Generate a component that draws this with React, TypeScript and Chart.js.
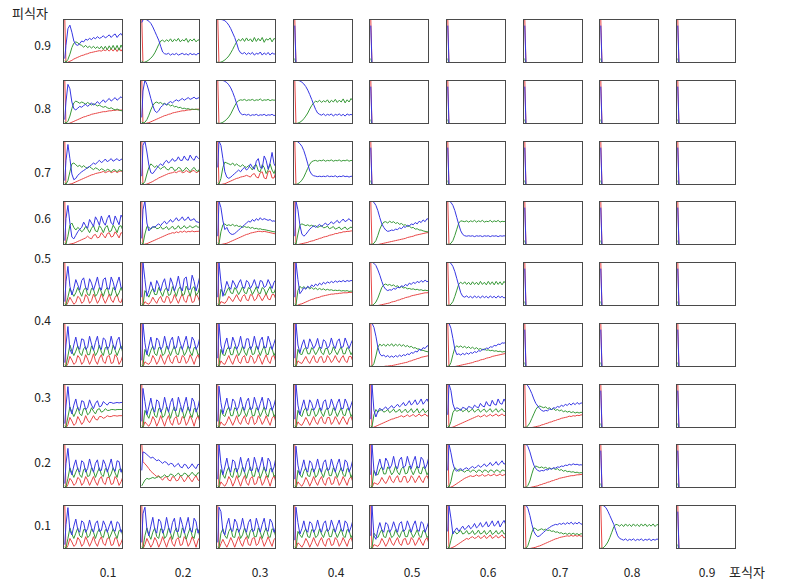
import React, { useEffect, useRef } from 'react';
import { Chart, registerables } from 'chart.js';

Chart.register(...registerables);

// Row labels (prey, 피식자) top to bottom; column labels (predator, 포식자) left to right
const preyLabels = ['0.9', '0.8', '0.7', '0.6', '0.5', '0.4', '0.3', '0.2', '0.1'];
const predLabels = ['0.1', '0.2', '0.3', '0.4', '0.5', '0.6', '0.7', '0.8', '0.9'];

// Each row: 9 cells (predator 0.1 .. 0.9); each cell: series sampled at t = 0..30, in % of the cell's range
const blue09 = [
  [10, 40, 78, 86, 70, 50, 42, 40, 44, 50, 48, 54, 52, 56, 53, 58, 55, 60, 56, 58, 62, 57, 60, 64, 58, 63, 66, 58, 64, 67, 60],
  [92, 98, 100, 98, 95, 90, 82, 72, 62, 52, 38, 25, 21, 20, 22, 18, 21, 19, 22, 18, 20, 22, 19, 21, 18, 22, 19, 21, 18, 22, 20],
  [100, 100, 99, 98, 96, 92, 86, 78, 68, 58, 45, 30, 23, 21, 24, 19, 23, 20, 24, 18, 22, 20, 25, 18, 23, 19, 24, 18, 23, 20, 22],
  [85, 0], [85, 0], [85, 0], [85, 0], [85, 0], [85, 0],
];
const green09 = [
  [5, 2, 8, 20, 35, 45, 48, 46, 42, 40, 36, 40, 35, 38, 34, 38, 33, 37, 32, 38, 31, 38, 30, 39, 31, 40, 30, 40, 29, 41, 32],
  [5, 1, 2, 4, 7, 11, 16, 23, 32, 42, 50, 52, 48, 53, 49, 55, 48, 54, 50, 56, 48, 53, 50, 56, 47, 54, 50, 55, 48, 53, 50],
  [3, 1, 2, 4, 7, 11, 16, 23, 31, 40, 48, 54, 50, 56, 49, 57, 50, 55, 48, 58, 49, 56, 50, 58, 47, 55, 52, 57, 48, 56, 52],
  [10, 0], [10, 0], [10, 0], [10, 0], [10, 0], [10, 0],
];
const red09 = [
  [100, 0, 2, 4, 6, 9, 11, 13, 15, 17, 18, 20, 21, 23, 24, 25, 26, 27, 28, 27, 30, 28, 31, 27, 32, 27, 33, 26, 34, 27, 33],
  [100, 0], [100, 0],
  [100, 0], [100, 0], [100, 0], [100, 0], [100, 0], [100, 0],
];

const blue08 = [
  [10, 50, 90, 80, 50, 35, 32, 36, 40, 38, 42, 45, 40, 44, 48, 43, 46, 51, 46, 50, 55, 49, 54, 58, 52, 56, 60, 54, 58, 62, 57],
  [15, 75, 100, 90, 75, 58, 42, 30, 26, 30, 38, 42, 46, 44, 48, 51, 48, 52, 55, 52, 55, 58, 54, 57, 60, 56, 58, 61, 57, 59, 61],
  [100, 100, 100, 99, 97, 94, 89, 82, 72, 60, 46, 32, 24, 21, 22, 20, 22, 19, 21, 20, 22, 19, 21, 20, 22, 19, 21, 20, 22, 19, 21],
  [100, 100, 99, 98, 95, 91, 85, 77, 67, 56, 44, 33, 25, 22, 20, 23, 19, 22, 20, 23, 18, 22, 20, 23, 19, 22, 18, 23, 20, 22, 19],
  [85, 0], [85, 0], [85, 0], [85, 0], [85, 0],
];
const green08 = [
  [5, 2, 6, 18, 35, 48, 52, 50, 47, 50, 48, 45, 49, 46, 43, 46, 44, 41, 43, 40, 38, 40, 37, 35, 37, 34, 32, 34, 32, 30, 31],
  [5, 2, 4, 10, 20, 32, 42, 48, 50, 47, 49, 45, 47, 43, 45, 41, 43, 39, 40, 37, 38, 35, 36, 34, 35, 33, 34, 33, 34, 32, 33],
  [3, 1, 2, 4, 7, 11, 16, 23, 32, 41, 49, 53, 55, 54, 56, 53, 55, 54, 56, 53, 55, 54, 57, 53, 55, 54, 56, 53, 55, 54, 55],
  [3, 1, 2, 4, 7, 12, 18, 25, 34, 42, 48, 52, 50, 54, 49, 53, 50, 55, 48, 54, 50, 56, 49, 54, 50, 57, 48, 55, 50, 58, 52],
  [10, 0], [10, 0], [10, 0], [10, 0], [10, 0],
];
const red08 = [
  [100, 0, 1, 2, 4, 6, 8, 10, 12, 14, 16, 17, 19, 20, 22, 23, 24, 25, 26, 27, 28, 28, 29, 30, 30, 31, 31, 32, 31, 32, 31],
  [100, 0, 1, 2, 3, 5, 7, 9, 11, 13, 15, 17, 19, 20, 22, 23, 25, 26, 27, 28, 29, 30, 30, 31, 32, 32, 33, 33, 33, 34, 33],
  [100, 0], [100, 0],
  [100, 0], [100, 0], [100, 0], [100, 0], [100, 0],
];

const blue07 = [
  [10, 55, 92, 60, 25, 12, 15, 22, 26, 30, 33, 36, 40, 42, 46, 50, 47, 52, 56, 51, 54, 59, 53, 56, 60, 54, 57, 60, 55, 58, 60],
  [20, 90, 100, 75, 45, 28, 26, 32, 38, 44, 48, 44, 52, 56, 50, 54, 60, 54, 56, 64, 56, 56, 66, 58, 56, 68, 60, 56, 66, 62, 57],
  [40, 100, 90, 60, 30, 18, 15, 18, 22, 26, 30, 34, 30, 36, 40, 34, 38, 48, 40, 36, 54, 60, 40, 38, 66, 56, 36, 50, 74, 48, 40],
  [100, 100, 98, 94, 88, 78, 64, 48, 32, 24, 21, 20, 19, 20, 19, 20, 19, 21, 19, 20, 19, 21, 18, 20, 19, 21, 19, 20, 18, 20, 19],
  [85, 0], [85, 0], [85, 0], [85, 0], [85, 0],
];
const green07 = [
  [5, 2, 10, 30, 48, 50, 46, 42, 45, 40, 44, 40, 38, 42, 38, 35, 39, 37, 33, 37, 35, 31, 36, 34, 30, 35, 34, 30, 35, 33, 31],
  [5, 2, 8, 25, 40, 48, 44, 40, 44, 40, 36, 40, 42, 36, 34, 40, 40, 33, 34, 40, 38, 31, 34, 40, 36, 30, 36, 40, 33, 31, 38],
  [5, 2, 15, 40, 52, 50, 48, 46, 50, 44, 48, 44, 42, 46, 42, 40, 44, 40, 34, 44, 46, 32, 30, 46, 40, 26, 34, 48, 34, 26, 40],
  [3, 1, 3, 6, 11, 18, 28, 38, 47, 53, 55, 56, 54, 56, 55, 57, 54, 56, 55, 57, 54, 56, 55, 57, 54, 56, 55, 57, 54, 56, 55],
  [10, 0], [10, 0], [10, 0], [10, 0], [10, 0],
];
const red07 = [
  [100, 0, 1, 2, 3, 5, 7, 9, 11, 13, 15, 17, 19, 21, 23, 24, 26, 27, 28, 29, 31, 28, 30, 32, 28, 30, 32, 28, 31, 32, 29],
  [100, 0, 1, 2, 4, 6, 8, 11, 13, 16, 18, 20, 22, 24, 26, 27, 28, 30, 28, 31, 32, 28, 29, 33, 30, 28, 32, 33, 28, 30, 33],
  [100, 0, 1, 2, 3, 5, 7, 9, 11, 13, 15, 16, 18, 19, 20, 22, 20, 18, 24, 26, 18, 16, 28, 30, 16, 14, 30, 32, 16, 16, 30],
  [100, 0],
  [100, 0], [100, 0], [100, 0], [100, 0], [100, 0],
];

const blue06 = [
  [10, 60, 90, 50, 18, 14, 22, 30, 36, 40, 52, 44, 38, 58, 50, 42, 64, 56, 45, 66, 52, 45, 60, 68, 50, 46, 66, 56, 46, 68, 60],
  [15, 80, 100, 50, 32, 38, 42, 40, 45, 48, 44, 50, 54, 48, 52, 58, 52, 56, 62, 55, 58, 64, 56, 58, 64, 56, 57, 60, 53, 52, 50],
  [20, 100, 85, 55, 35, 40, 30, 25, 24, 26, 30, 34, 38, 42, 46, 50, 54, 52, 58, 54, 60, 56, 62, 57, 60, 58, 56, 58, 54, 55, 52],
  [20, 100, 80, 45, 25, 20, 24, 30, 36, 40, 44, 40, 43, 47, 42, 46, 50, 45, 48, 53, 48, 52, 56, 50, 54, 59, 53, 56, 60, 54, 58],
  [100, 100, 97, 90, 78, 62, 48, 40, 34, 31, 32, 34, 33, 36, 35, 39, 37, 42, 40, 45, 43, 48, 46, 51, 48, 54, 51, 57, 53, 60, 57],
  [100, 100, 97, 90, 78, 62, 46, 32, 24, 21, 20, 21, 20, 21, 19, 21, 20, 21, 19, 21, 20, 21, 19, 21, 20, 21, 19, 21, 20, 21, 20],
  [85, 0], [85, 0], [85, 0],
];
const green06 = [
  [5, 2, 20, 45, 50, 40, 34, 40, 36, 30, 34, 42, 36, 28, 38, 44, 32, 30, 44, 38, 28, 40, 44, 30, 32, 45, 38, 28, 42, 44, 32],
  [5, 2, 25, 42, 40, 36, 40, 42, 37, 38, 42, 36, 38, 42, 35, 38, 43, 36, 38, 44, 37, 39, 44, 38, 40, 44, 39, 41, 44, 40, 42],
  [5, 2, 30, 46, 48, 44, 46, 44, 47, 43, 45, 42, 43, 40, 42, 40, 41, 38, 40, 37, 38, 36, 37, 35, 35, 34, 33, 32, 31, 30, 30],
  [5, 2, 25, 45, 48, 46, 44, 46, 43, 45, 42, 44, 40, 42, 44, 39, 40, 43, 37, 39, 42, 36, 38, 41, 35, 38, 41, 35, 38, 41, 37],
  [3, 1, 4, 10, 22, 36, 46, 52, 53, 50, 54, 51, 53, 49, 51, 47, 49, 45, 46, 42, 43, 39, 40, 36, 37, 34, 34, 32, 31, 30, 30],
  [3, 1, 4, 10, 22, 36, 50, 55, 54, 53, 55, 52, 55, 53, 56, 52, 55, 53, 56, 52, 54, 53, 56, 52, 55, 53, 56, 52, 54, 53, 55],
  [10, 0], [10, 0], [10, 0],
];
const red06 = [
  [100, 0, 1, 2, 3, 4, 6, 8, 10, 12, 14, 16, 20, 16, 14, 22, 24, 16, 18, 28, 22, 16, 26, 28, 18, 20, 30, 24, 16, 28, 26],
  [100, 0, 2, 3, 5, 7, 9, 11, 13, 15, 17, 19, 21, 23, 25, 26, 28, 27, 30, 28, 31, 29, 32, 29, 31, 30, 32, 30, 31, 31, 32],
  [100, 0, 1, 2, 3, 4, 6, 8, 10, 12, 14, 16, 18, 20, 22, 24, 25, 27, 28, 29, 30, 31, 31, 30, 31, 30, 29, 28, 27, 26, 25],
  [100, 0, 1, 2, 3, 4, 5, 6, 8, 9, 10, 12, 13, 15, 16, 18, 19, 20, 22, 23, 24, 26, 26, 28, 28, 30, 30, 31, 31, 32, 32],
  [100, 0, 0, 1, 1, 2, 3, 4, 5, 6, 7, 8, 9, 10, 11, 12, 13, 14, 15, 17, 18, 19, 20, 22, 23, 24, 25, 26, 27, 28, 28],
  [100, 0],
  [100, 0], [100, 0], [100, 0],
];

const blue05 = [
  [10, 55, 90, 45, 25, 40, 60, 48, 36, 58, 64, 42, 36, 62, 52, 36, 50, 66, 44, 36, 60, 64, 40, 38, 66, 54, 36, 52, 66, 42, 40],
  [20, 100, 60, 22, 35, 55, 40, 32, 58, 48, 34, 52, 62, 40, 34, 64, 52, 34, 48, 68, 44, 34, 62, 66, 38, 38, 70, 56, 34, 50, 70],
  [20, 100, 55, 22, 38, 56, 44, 38, 58, 50, 40, 52, 60, 44, 40, 58, 54, 40, 48, 60, 46, 40, 58, 56, 42, 46, 60, 50, 40, 54, 60],
  [20, 100, 60, 28, 34, 42, 38, 45, 41, 48, 44, 50, 46, 52, 48, 54, 50, 55, 52, 56, 53, 57, 54, 57, 55, 58, 55, 58, 56, 58, 57],
  [100, 100, 97, 92, 82, 70, 56, 44, 38, 35, 37, 36, 40, 38, 43, 41, 46, 44, 49, 46, 52, 49, 54, 51, 56, 53, 58, 54, 59, 55, 58],
  [100, 100, 97, 90, 78, 62, 46, 30, 22, 20, 23, 19, 22, 18, 23, 19, 22, 18, 23, 19, 22, 18, 23, 19, 22, 18, 23, 19, 22, 18, 22],
  [85, 0], [85, 0], [85, 0],
];
const green05 = [
  [5, 2, 20, 40, 30, 22, 30, 42, 32, 22, 36, 42, 26, 24, 40, 38, 22, 28, 42, 32, 22, 36, 42, 26, 24, 42, 36, 22, 30, 42, 30],
  [5, 2, 35, 28, 20, 32, 40, 26, 26, 42, 32, 22, 36, 42, 24, 26, 44, 34, 22, 38, 44, 24, 26, 45, 36, 22, 40, 44, 24, 30, 46],
  [5, 2, 38, 30, 24, 34, 42, 30, 28, 42, 36, 26, 34, 44, 30, 28, 42, 38, 26, 34, 44, 30, 28, 42, 38, 26, 36, 44, 30, 30, 42],
  [5, 2, 35, 45, 40, 44, 40, 43, 39, 42, 38, 41, 37, 40, 37, 39, 36, 38, 36, 37, 35, 36, 35, 36, 34, 35, 34, 35, 33, 34, 33],
  [3, 1, 4, 9, 18, 30, 42, 48, 50, 47, 49, 46, 48, 44, 46, 42, 44, 41, 42, 39, 40, 38, 39, 37, 38, 36, 37, 35, 36, 35, 35],
  [3, 1, 4, 10, 22, 36, 50, 54, 50, 55, 49, 54, 48, 55, 49, 54, 48, 56, 49, 54, 48, 56, 49, 55, 48, 56, 49, 55, 48, 56, 50],
  [10, 0], [10, 0], [10, 0],
];
const red05 = [
  [100, 0, 8, 20, 12, 4, 8, 22, 18, 6, 10, 26, 20, 6, 12, 27, 18, 6, 14, 28, 16, 6, 16, 27, 14, 8, 20, 26, 10, 8, 22],
  [100, 0, 10, 6, 4, 10, 20, 12, 6, 16, 22, 10, 8, 22, 20, 6, 12, 26, 16, 6, 18, 28, 12, 8, 24, 26, 8, 10, 28, 20, 8],
  [100, 0, 10, 8, 6, 12, 22, 16, 10, 18, 26, 16, 10, 22, 26, 14, 12, 26, 24, 12, 16, 28, 20, 12, 20, 28, 16, 14, 26, 26, 14],
  [100, 0, 2, 4, 5, 7, 9, 11, 13, 15, 16, 18, 19, 20, 22, 23, 24, 25, 26, 27, 27, 28, 28, 29, 29, 30, 30, 30, 31, 31, 31],
  [100, 0, 0, 1, 1, 2, 3, 4, 5, 6, 7, 9, 10, 11, 13, 14, 16, 17, 19, 20, 21, 23, 24, 25, 26, 27, 28, 29, 30, 30, 31],
  [100, 0],
  [100, 0], [100, 0], [100, 0],
];

const blue04 = [
  [10, 50, 92, 40, 30, 50, 68, 46, 40, 64, 62, 40, 44, 70, 52, 38, 56, 70, 44, 40, 66, 62, 40, 46, 70, 50, 40, 60, 68, 42, 44],
  [15, 100, 55, 28, 48, 68, 44, 40, 66, 60, 40, 46, 70, 50, 40, 60, 68, 42, 44, 70, 54, 40, 56, 70, 46, 42, 68, 60, 40, 50, 70],
  [20, 100, 50, 30, 52, 66, 42, 42, 68, 56, 40, 50, 70, 46, 42, 64, 64, 40, 48, 70, 50, 40, 60, 68, 44, 44, 70, 56, 40, 54, 68],
  [20, 100, 50, 32, 50, 62, 44, 42, 64, 54, 42, 50, 65, 46, 42, 62, 58, 42, 48, 66, 50, 42, 58, 64, 44, 46, 66, 54, 42, 54, 64],
  [100, 100, 90, 70, 45, 30, 25, 27, 23, 26, 22, 25, 22, 26, 23, 27, 24, 28, 26, 30, 28, 33, 31, 36, 34, 40, 38, 44, 42, 48, 48],
  [100, 100, 88, 65, 40, 28, 30, 27, 31, 28, 32, 29, 33, 31, 35, 33, 37, 36, 40, 39, 43, 42, 46, 45, 49, 48, 52, 51, 55, 54, 57],
  [85, 0], [85, 0], [85, 0],
];
const green04 = [
  [5, 2, 25, 50, 36, 26, 36, 48, 32, 26, 42, 46, 28, 28, 48, 40, 26, 34, 50, 34, 26, 44, 46, 28, 30, 50, 38, 26, 38, 48, 30],
  [5, 2, 40, 30, 24, 38, 48, 30, 26, 44, 44, 26, 30, 48, 38, 26, 38, 48, 30, 28, 46, 42, 26, 34, 48, 34, 26, 44, 44, 28, 32],
  [5, 2, 40, 28, 26, 40, 46, 28, 28, 46, 40, 26, 34, 48, 34, 26, 42, 46, 28, 30, 48, 38, 26, 38, 48, 30, 28, 46, 42, 26, 36],
  [5, 2, 40, 30, 28, 40, 44, 30, 30, 44, 38, 28, 36, 46, 32, 28, 42, 42, 28, 32, 46, 36, 28, 38, 46, 30, 30, 44, 40, 28, 36],
  [3, 1, 8, 25, 45, 52, 48, 52, 47, 52, 48, 53, 47, 52, 48, 52, 47, 51, 46, 49, 45, 47, 43, 44, 41, 41, 38, 38, 36, 35, 34],
  [3, 1, 10, 28, 44, 48, 45, 48, 44, 47, 43, 46, 42, 45, 41, 44, 40, 42, 39, 41, 38, 39, 37, 38, 36, 37, 35, 36, 34, 35, 34],
  [10, 0], [10, 0], [10, 0],
];
const red04 = [
  [100, 0, 8, 24, 16, 6, 10, 26, 20, 6, 12, 28, 18, 6, 16, 30, 14, 6, 20, 28, 12, 8, 24, 26, 8, 10, 28, 22, 6, 14, 28],
  [100, 0, 12, 8, 6, 12, 26, 18, 6, 14, 28, 16, 6, 18, 28, 12, 8, 22, 26, 10, 10, 26, 22, 8, 14, 28, 18, 6, 20, 28, 14],
  [100, 0, 14, 8, 6, 16, 26, 14, 6, 18, 28, 12, 8, 22, 26, 10, 10, 26, 22, 8, 14, 28, 18, 6, 18, 28, 14, 8, 24, 26, 10],
  [100, 0, 14, 10, 8, 16, 24, 14, 8, 18, 26, 12, 10, 22, 24, 10, 12, 26, 20, 10, 16, 26, 16, 10, 20, 26, 14, 10, 24, 24, 12],
  [100, 0, 0, 0, 0, 1, 1, 1, 2, 2, 3, 3, 4, 5, 6, 7, 8, 9, 10, 11, 13, 14, 16, 17, 19, 20, 22, 23, 24, 25, 26],
  [100, 0, 0, 1, 1, 2, 3, 4, 5, 6, 7, 8, 9, 10, 12, 13, 14, 16, 17, 18, 20, 21, 22, 24, 25, 26, 27, 28, 29, 30, 31],
  [100, 0], [100, 0], [100, 0],
];

const blue03 = [
  [10, 50, 94, 45, 32, 52, 66, 44, 40, 62, 60, 42, 46, 64, 52, 44, 56, 62, 48, 50, 60, 56, 52, 58, 58, 56, 57, 58, 57, 58, 58],
  [15, 90, 60, 30, 48, 68, 44, 36, 64, 60, 36, 44, 70, 50, 36, 58, 68, 40, 40, 70, 54, 36, 54, 70, 44, 38, 68, 60, 36, 48, 70],
  [15, 95, 58, 32, 50, 68, 44, 40, 66, 60, 40, 48, 70, 50, 40, 60, 68, 42, 44, 70, 54, 40, 56, 70, 46, 42, 68, 60, 40, 52, 70],
  [20, 100, 52, 30, 48, 64, 44, 40, 64, 56, 40, 48, 66, 48, 40, 60, 64, 42, 46, 66, 52, 40, 56, 66, 44, 44, 66, 56, 40, 52, 66],
  [20, 100, 40, 25, 38, 45, 40, 44, 48, 42, 46, 51, 45, 49, 54, 48, 52, 58, 50, 55, 62, 52, 57, 64, 53, 58, 66, 54, 60, 66, 56],
  [30, 100, 85, 55, 42, 46, 44, 40, 47, 45, 42, 49, 47, 44, 52, 48, 46, 56, 50, 48, 60, 52, 50, 63, 54, 52, 66, 56, 54, 66, 57],
  [100, 100, 96, 88, 78, 66, 56, 50, 44, 40, 38, 40, 39, 43, 42, 46, 45, 49, 47, 52, 49, 54, 51, 56, 52, 57, 53, 58, 54, 57, 56],
  [85, 0], [85, 0],
];
const green03 = [
  [5, 2, 25, 48, 36, 26, 36, 48, 32, 28, 44, 44, 30, 34, 46, 38, 32, 42, 44, 36, 38, 44, 40, 40, 42, 42, 41, 42, 42, 42, 42],
  [5, 2, 40, 30, 22, 38, 48, 28, 24, 44, 44, 24, 28, 48, 38, 22, 38, 48, 28, 26, 46, 42, 22, 34, 48, 32, 24, 44, 44, 26, 30],
  [5, 2, 42, 30, 26, 40, 48, 28, 28, 46, 42, 26, 32, 48, 36, 26, 40, 48, 28, 28, 46, 40, 26, 36, 48, 32, 26, 44, 44, 26, 34],
  [5, 2, 40, 30, 26, 40, 46, 28, 28, 44, 40, 26, 32, 46, 34, 26, 40, 46, 28, 30, 46, 38, 26, 36, 46, 30, 28, 44, 42, 26, 34],
  [5, 2, 30, 42, 36, 40, 42, 36, 38, 42, 35, 38, 43, 36, 38, 43, 35, 38, 43, 35, 38, 44, 35, 38, 44, 34, 38, 44, 35, 38, 43],
  [5, 2, 15, 35, 42, 38, 40, 43, 37, 40, 43, 36, 40, 43, 36, 40, 43, 36, 40, 43, 36, 40, 44, 36, 40, 44, 36, 40, 44, 37, 40],
  [3, 1, 5, 12, 22, 32, 42, 48, 50, 48, 46, 48, 44, 46, 42, 44, 40, 42, 39, 41, 37, 39, 36, 38, 35, 37, 34, 36, 34, 36, 34],
  [10, 0], [10, 0],
];
const red03 = [
  [100, 0, 8, 24, 16, 6, 10, 26, 18, 8, 14, 28, 18, 12, 20, 28, 20, 18, 26, 26, 22, 24, 28, 26, 26, 28, 28, 27, 28, 28, 28],
  [100, 0, 14, 8, 4, 12, 26, 18, 4, 14, 28, 16, 4, 18, 28, 12, 6, 22, 26, 8, 10, 26, 22, 6, 14, 28, 18, 4, 20, 28, 12],
  [100, 0, 14, 8, 6, 14, 26, 16, 6, 16, 28, 14, 8, 20, 28, 12, 8, 24, 26, 8, 12, 28, 20, 8, 16, 28, 16, 6, 22, 28, 12],
  [100, 0, 14, 8, 6, 14, 24, 16, 6, 16, 26, 14, 8, 20, 26, 12, 10, 24, 24, 8, 14, 26, 18, 8, 18, 26, 16, 8, 22, 26, 12],
  [100, 0, 2, 4, 6, 8, 10, 12, 14, 16, 18, 20, 21, 23, 24, 26, 28, 25, 27, 30, 26, 28, 31, 26, 28, 32, 27, 29, 32, 27, 29],
  [100, 0, 1, 2, 4, 6, 8, 10, 12, 14, 16, 18, 20, 22, 24, 26, 28, 25, 27, 30, 26, 28, 31, 27, 29, 32, 27, 29, 32, 28, 30],
  [100, 0, 0, 1, 1, 2, 3, 4, 5, 7, 8, 10, 11, 13, 14, 16, 17, 19, 20, 22, 23, 24, 25, 27, 26, 28, 27, 29, 28, 30, 29],
  [100, 0], [100, 0],
];

const blue02 = [
  [10, 55, 90, 42, 30, 50, 64, 42, 36, 62, 58, 36, 44, 66, 48, 36, 56, 64, 40, 40, 64, 54, 36, 50, 66, 44, 38, 62, 60, 36, 46],
  [40, 82, 80, 76, 72, 68, 70, 66, 62, 64, 60, 56, 60, 58, 52, 56, 55, 48, 52, 56, 48, 46, 54, 52, 44, 48, 55, 48, 44, 54, 52],
  [20, 100, 56, 30, 48, 68, 44, 36, 64, 60, 36, 46, 70, 48, 36, 58, 68, 40, 40, 70, 54, 36, 52, 70, 44, 38, 68, 60, 36, 48, 70],
  [20, 95, 52, 30, 46, 64, 42, 36, 62, 56, 36, 46, 66, 46, 36, 58, 64, 40, 42, 66, 50, 36, 54, 66, 42, 38, 64, 58, 36, 48, 66],
  [30, 100, 40, 28, 50, 66, 46, 42, 68, 60, 44, 52, 72, 50, 44, 64, 70, 46, 50, 72, 56, 44, 60, 72, 48, 46, 70, 64, 44, 54, 72],
  [40, 100, 80, 56, 42, 38, 42, 44, 40, 44, 46, 42, 46, 49, 45, 48, 52, 47, 50, 55, 49, 52, 58, 51, 54, 60, 52, 56, 62, 54, 58],
  [100, 100, 94, 82, 66, 52, 44, 40, 38, 40, 39, 42, 41, 44, 43, 46, 45, 48, 47, 50, 49, 52, 51, 54, 52, 55, 53, 54, 52, 53, 51],
  [85, 0], [85, 0],
];
const green02 = [
  [5, 2, 22, 46, 34, 24, 36, 46, 30, 24, 42, 44, 26, 28, 46, 38, 24, 36, 46, 30, 26, 44, 42, 24, 32, 46, 34, 24, 42, 44, 28],
  [5, 10, 18, 22, 20, 22, 24, 22, 24, 26, 24, 26, 30, 26, 26, 32, 30, 26, 30, 34, 28, 28, 34, 32, 26, 30, 36, 30, 28, 35, 32],
  [5, 2, 42, 30, 22, 38, 48, 28, 24, 44, 44, 24, 30, 48, 36, 22, 38, 48, 28, 26, 46, 42, 22, 34, 48, 32, 24, 44, 44, 26, 32],
  [5, 2, 40, 30, 24, 38, 46, 28, 26, 44, 42, 24, 30, 46, 34, 24, 40, 46, 28, 28, 46, 38, 24, 36, 46, 30, 26, 44, 42, 24, 34],
  [5, 2, 40, 32, 30, 42, 48, 32, 32, 48, 42, 30, 36, 50, 36, 30, 44, 48, 32, 34, 50, 40, 30, 40, 50, 34, 32, 48, 44, 30, 38],
  [5, 2, 15, 36, 46, 42, 38, 41, 39, 36, 40, 40, 36, 41, 40, 35, 41, 40, 35, 41, 40, 35, 41, 40, 35, 41, 40, 35, 41, 40, 36],
  [3, 1, 6, 16, 32, 46, 50, 48, 46, 48, 45, 47, 44, 46, 43, 45, 42, 44, 40, 42, 38, 40, 37, 38, 36, 37, 35, 36, 34, 35, 34],
  [10, 0], [10, 0],
];
const red02 = [
  [100, 0, 8, 22, 16, 6, 10, 24, 20, 6, 12, 26, 18, 6, 16, 26, 14, 6, 20, 26, 12, 8, 24, 24, 8, 10, 26, 20, 6, 14, 26],
  [100, 60, 55, 50, 44, 38, 34, 30, 26, 28, 22, 18, 24, 26, 18, 16, 26, 24, 16, 18, 28, 22, 14, 20, 28, 20, 14, 22, 28, 18, 16],
  [100, 0, 14, 8, 4, 12, 26, 18, 4, 14, 28, 16, 4, 18, 28, 12, 6, 22, 26, 8, 10, 26, 22, 6, 14, 28, 18, 4, 20, 28, 12],
  [100, 0, 14, 8, 4, 12, 24, 16, 4, 14, 26, 14, 6, 18, 26, 12, 6, 22, 24, 8, 10, 26, 20, 6, 14, 26, 16, 6, 20, 26, 12],
  [100, 0, 12, 10, 8, 14, 24, 16, 10, 18, 28, 16, 12, 22, 28, 14, 14, 26, 26, 12, 16, 28, 22, 12, 20, 28, 18, 12, 24, 28, 16],
  [100, 0, 2, 4, 7, 10, 13, 16, 19, 22, 24, 26, 28, 26, 27, 30, 27, 28, 31, 27, 28, 31, 28, 29, 32, 28, 29, 32, 28, 30, 31],
  [100, 0, 0, 1, 2, 3, 4, 5, 7, 8, 10, 11, 13, 14, 16, 17, 19, 20, 22, 23, 24, 25, 26, 27, 28, 28, 29, 30, 30, 31, 30],
  [100, 0], [100, 0],
];

const blue01 = [
  [10, 55, 94, 42, 32, 52, 68, 44, 38, 64, 60, 38, 46, 66, 48, 38, 58, 64, 40, 42, 64, 54, 38, 52, 64, 44, 40, 62, 58, 38, 48],
  [15, 80, 95, 45, 30, 52, 72, 44, 36, 68, 62, 36, 46, 72, 50, 36, 60, 70, 40, 40, 72, 56, 36, 54, 72, 44, 38, 70, 62, 36, 50],
  [15, 95, 85, 40, 32, 56, 70, 44, 40, 68, 60, 38, 48, 70, 48, 38, 60, 68, 40, 42, 70, 54, 38, 56, 70, 44, 40, 68, 60, 38, 52],
  [20, 95, 60, 34, 46, 64, 44, 38, 62, 58, 38, 46, 66, 48, 38, 58, 64, 40, 44, 66, 52, 38, 54, 66, 44, 40, 64, 58, 38, 50, 66],
  [30, 100, 30, 22, 44, 60, 44, 38, 60, 56, 38, 46, 62, 48, 38, 58, 62, 40, 44, 64, 52, 38, 54, 64, 44, 40, 62, 58, 38, 50, 64],
  [40, 100, 70, 34, 42, 48, 40, 46, 52, 44, 48, 54, 46, 50, 58, 48, 52, 60, 50, 54, 62, 50, 56, 64, 52, 56, 64, 50, 58, 65, 54],
  [100, 100, 92, 76, 56, 40, 32, 28, 30, 34, 38, 42, 46, 49, 52, 54, 56, 55, 58, 56, 59, 56, 60, 57, 61, 56, 60, 57, 61, 56, 59],
  [100, 100, 98, 94, 86, 76, 66, 56, 42, 30, 24, 22, 20, 23, 19, 22, 20, 23, 19, 22, 20, 23, 19, 22, 20, 23, 19, 22, 20, 23, 20],
  [85, 0],
];
const green01 = [
  [5, 2, 24, 48, 34, 24, 36, 48, 30, 26, 44, 44, 26, 30, 46, 38, 24, 38, 46, 30, 26, 44, 42, 24, 34, 46, 34, 24, 42, 44, 28],
  [5, 2, 30, 48, 32, 22, 38, 48, 28, 24, 46, 44, 24, 30, 48, 36, 22, 40, 48, 28, 26, 48, 40, 22, 36, 48, 30, 24, 46, 44, 26],
  [5, 2, 36, 46, 30, 24, 40, 48, 28, 26, 46, 42, 24, 32, 48, 34, 24, 42, 46, 28, 28, 48, 38, 24, 38, 48, 30, 26, 46, 42, 26],
  [5, 2, 40, 32, 26, 38, 46, 28, 26, 44, 42, 26, 30, 46, 34, 26, 40, 46, 28, 28, 46, 38, 26, 36, 46, 30, 26, 44, 42, 26, 34],
  [5, 2, 36, 30, 26, 36, 44, 28, 26, 42, 40, 26, 30, 44, 34, 26, 38, 44, 28, 28, 44, 36, 26, 34, 44, 30, 26, 42, 40, 26, 32],
  [5, 2, 20, 38, 40, 34, 38, 42, 34, 36, 42, 34, 36, 42, 33, 36, 43, 34, 36, 42, 33, 37, 43, 33, 36, 42, 34, 37, 43, 34, 36],
  [3, 1, 8, 22, 38, 48, 46, 42, 44, 46, 43, 45, 42, 43, 40, 41, 38, 39, 36, 37, 34, 36, 33, 36, 33, 36, 33, 35, 32, 35, 33],
  [3, 1, 4, 9, 16, 26, 38, 50, 56, 55, 52, 56, 51, 57, 52, 56, 51, 57, 52, 56, 51, 57, 52, 57, 51, 56, 52, 57, 51, 56, 53],
  [10, 0],
];
const red01 = [
  [100, 0, 8, 24, 16, 6, 10, 26, 20, 6, 12, 28, 18, 6, 16, 28, 14, 6, 20, 28, 12, 8, 24, 26, 8, 10, 26, 22, 6, 14, 26],
  [100, 0, 10, 24, 14, 4, 12, 26, 18, 4, 14, 28, 16, 4, 18, 28, 12, 6, 22, 26, 8, 10, 28, 22, 6, 14, 28, 18, 4, 20, 28],
  [100, 0, 12, 22, 12, 4, 14, 26, 16, 4, 16, 28, 14, 6, 20, 28, 10, 8, 24, 26, 8, 12, 28, 20, 6, 16, 28, 16, 6, 22, 26],
  [100, 0, 14, 10, 4, 12, 24, 16, 4, 14, 26, 14, 6, 18, 26, 12, 6, 22, 24, 8, 10, 26, 20, 6, 14, 26, 16, 6, 20, 26, 12],
  [100, 0, 10, 8, 6, 12, 24, 16, 6, 14, 26, 14, 8, 18, 26, 12, 8, 22, 24, 10, 12, 26, 20, 8, 16, 26, 16, 8, 20, 26, 12],
  [100, 0, 2, 4, 6, 9, 12, 15, 18, 21, 24, 22, 26, 28, 24, 26, 30, 24, 26, 31, 24, 27, 32, 24, 27, 31, 25, 28, 32, 25, 28],
  [100, 0, 0, 1, 2, 3, 4, 6, 7, 9, 11, 13, 15, 17, 19, 21, 23, 24, 26, 27, 28, 29, 30, 29, 31, 29, 31, 29, 31, 29, 30],
  [100, 0],
  [100, 0],
];

const blueRows = [blue09, blue08, blue07, blue06, blue05, blue04, blue03, blue02, blue01];
const greenRows = [green09, green08, green07, green06, green05, green04, green03, green02, green01];
const redRows = [red09, red08, red07, red06, red05, red04, red03, red02, red01];

// time of the first (initial) sample; later samples sit at t = 1, 2, ... 30
const START_TIME = 0.4;
const END_TIME = 30;

const BLUE = '#3636e2';
const GREEN = '#379837';
const RED = '#e84545';
const FONT = '"Noto Sans CJK KR", "Noto Sans", sans-serif';

const CELL_W = 60;
const CELL_H = 44;

const borderPlugin = {
  id: 'cellBorder',
  afterDraw(chart: any) {
    const ctx = chart.ctx;
    ctx.save();
    ctx.strokeStyle = '#4a4a4a';
    ctx.lineWidth = 1;
    ctx.strokeRect(0.5, 0.5, chart.width - 1, chart.height - 1);
    ctx.restore();
  },
};

function Cell({ b, g, r, left, top }: { b: number[]; g: number[]; r: number[]; left: number; top: number }) {
  const ref = useRef<HTMLCanvasElement | null>(null);
  useEffect(() => {
    if (!ref.current) return;
    const mk = (arr: number[], color: string) => ({
      data: arr.map((v, i) => ({ x: i === 0 ? START_TIME : i, y: v })),
      borderColor: color,
      backgroundColor: color,
      borderWidth: 1,
      pointRadius: 0,
      fill: false,
      tension: 0,
    });
    const chart = new Chart(ref.current, {
      type: 'line',
      data: { datasets: [mk(b, BLUE), mk(g, GREEN), mk(r, RED)] as any },
      options: {
        animation: false,
        responsive: false,
        devicePixelRatio: 1,
        events: [],
        layout: { padding: { left: 1, right: 0, top: 0, bottom: 0 } },
        plugins: { legend: { display: false }, tooltip: { enabled: false } },
        scales: {
          x: { type: 'linear', min: 0, max: END_TIME, display: false },
          y: { type: 'linear', min: 0, max: 100, display: false },
        },
      } as any,
      plugins: [borderPlugin],
    });
    return () => chart.destroy();
  }, [b, g, r]);
  return (
    <canvas
      ref={ref}
      width={CELL_W}
      height={CELL_H}
      style={{ position: 'absolute', left, top, width: CELL_W, height: CELL_H }}
    />
  );
}

const yLabelPos = [45, 108, 172, 218, 258, 320, 397, 462, 525];
const xLabelPos = [108, 183, 260, 336, 412, 488, 560, 632, 707];

export default function App() {
  const cells: React.ReactNode[] = [];
  for (let ri = 0; ri < preyLabels.length; ri++) {
    for (let ci = 0; ci < predLabels.length; ci++) {
      cells.push(
        <Cell
          key={`${ri}-${ci}`}
          b={blueRows[ri][ci]}
          g={greenRows[ri][ci]}
          r={redRows[ri][ci]}
          left={Math.round(63 + 76.6 * ci)}
          top={Math.round(19.3 + 60.7 * ri)}
        />
      );
    }
  }
  const textStyle: React.CSSProperties = {
    position: 'absolute',
    fontFamily: FONT,
    fontSize: 12,
    color: '#222',
    lineHeight: '16px',
    whiteSpace: 'nowrap',
  };
  return (
    <div style={{ position: 'fixed', left: 0, top: 0, width: 795, height: 587, background: '#fff', overflow: 'hidden' }}>
      {cells}
      <div style={{ ...textStyle, left: 12, top: 5, fontSize: 13 }}>피식자</div>
      {preyLabels.map((l, i) => (
        <div key={'y' + l} style={{ ...textStyle, left: 20, width: 31, textAlign: 'right', top: yLabelPos[i] - 8 }}>{l}</div>
      ))}
      {predLabels.map((l, i) => (
        <div key={'x' + l} style={{ ...textStyle, left: xLabelPos[i] - 20, width: 40, textAlign: 'center', top: 564 }}>{l}</div>
      ))}
      <div style={{ ...textStyle, left: 729, top: 564, fontSize: 13 }}>포식자</div>
    </div>
  );
}
